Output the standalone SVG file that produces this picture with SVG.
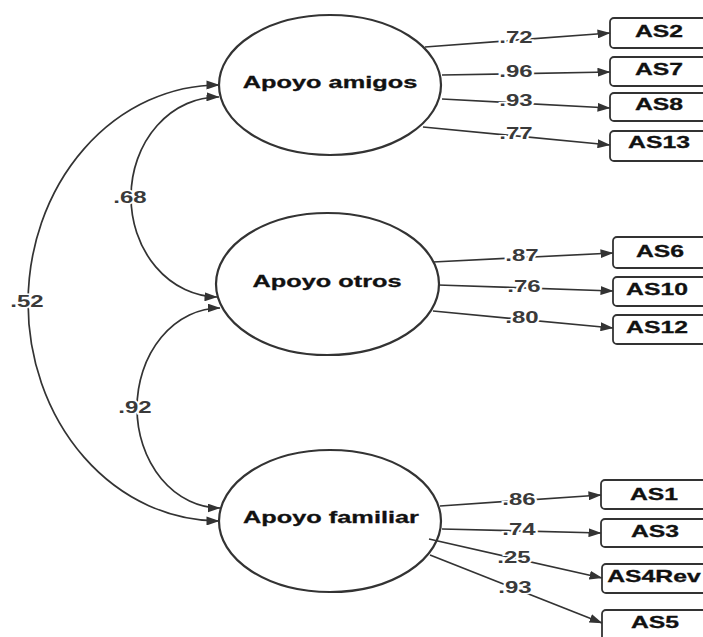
<svg xmlns="http://www.w3.org/2000/svg" width="703" height="637" viewBox="0 0 703 637">
  <defs>
    <marker id="arr" markerWidth="13" markerHeight="9" refX="12.5" refY="4.5" orient="auto-start-reverse" markerUnits="userSpaceOnUse">
      <path d="M0,0 L13,4.5 L0,9 z" fill="#333"/>
    </marker>
  </defs>
  <style>
    .latent { fill: #fff; stroke: #333; stroke-width: 2.2; }
    .obs { fill: #fff; stroke: #333; stroke-width: 1.8; }
    .lname { font-family: "Liberation Sans", Arial, sans-serif; font-weight: bold; font-size: 17px; fill: #111; text-anchor: middle; stroke: #111; stroke-width: 0.3; }
    .oname { font-family: "Liberation Sans", Arial, sans-serif; font-weight: bold; font-size: 16.5px; fill: #111; text-anchor: middle; stroke: #111; stroke-width: 0.3; }
    .edge { fill: none; stroke: #333; stroke-width: 1.7; }
    .coef { font-family: "Liberation Sans", Arial, sans-serif; font-weight: bold; font-size: 16px; fill: #3a3a3a; text-anchor: middle; stroke: #fff; stroke-width: 3; paint-order: stroke; }
  </style>
  <rect width="703" height="637" fill="#fff"/>

  <!-- latent factors -->
  <g id="apoyo-amigos">
    <ellipse class="latent" cx="330" cy="85" rx="111" ry="70"/>
    <text class="lname" transform="translate(330,88) scale(1.49,1)">Apoyo amigos</text>
  </g>
  <g id="apoyo-otros">
    <ellipse class="latent" cx="327.5" cy="284" rx="111.5" ry="71"/>
    <text class="lname" transform="translate(327,287) scale(1.49,1)">Apoyo otros</text>
  </g>
  <g id="apoyo-familiar">
    <ellipse class="latent" cx="330" cy="521" rx="111" ry="71"/>
    <text class="lname" transform="translate(331,523) scale(1.49,1)">Apoyo familiar</text>
  </g>

  <!-- observed items -->
  <g id="AS2"><rect class="obs" x="610" y="18" width="100" height="30" rx="4"/><text class="oname" transform="translate(659,37) scale(1.5,1)">AS2</text></g>
  <g id="AS7"><rect class="obs" x="610" y="57" width="100" height="29" rx="4"/><text class="oname" transform="translate(659,75) scale(1.5,1)">AS7</text></g>
  <g id="AS8"><rect class="obs" x="610" y="93" width="100" height="28" rx="4"/><text class="oname" transform="translate(659,110) scale(1.5,1)">AS8</text></g>
  <g id="AS13"><rect class="obs" x="610" y="131" width="100" height="30" rx="4"/><text class="oname" transform="translate(659,148) scale(1.5,1)">AS13</text></g>

  <g id="AS6"><rect class="obs" x="613" y="237" width="100" height="31" rx="4"/><text class="oname" transform="translate(660,257) scale(1.5,1)">AS6</text></g>
  <g id="AS10"><rect class="obs" x="613" y="277" width="100" height="29" rx="4"/><text class="oname" transform="translate(657,295) scale(1.5,1)">AS10</text></g>
  <g id="AS12"><rect class="obs" x="613" y="315" width="100" height="29" rx="4"/><text class="oname" transform="translate(657,333) scale(1.5,1)">AS12</text></g>

  <g id="AS1"><rect class="obs" x="601" y="480" width="110" height="29" rx="4"/><text class="oname" transform="translate(654,500) scale(1.5,1)">AS1</text></g>
  <g id="AS3"><rect class="obs" x="601" y="519" width="110" height="28" rx="4"/><text class="oname" transform="translate(655,537) scale(1.5,1)">AS3</text></g>
  <g id="AS4Rev"><rect class="obs" x="602" y="564" width="110" height="29" rx="4"/><text class="oname" transform="translate(654,582) scale(1.5,1)">AS4Rev</text></g>
  <g id="AS5"><rect class="obs" x="602" y="610" width="110" height="40" rx="4"/><text class="oname" transform="translate(655,628) scale(1.5,1)">AS5</text></g>

  <!-- paths and covariances -->
  <g id="connectors">
    <path class="edge" d="M425,47 L610,33" marker-end="url(#arr)"/>
    <path class="edge" d="M442,75 L610,72" marker-end="url(#arr)"/>
    <path class="edge" d="M442,99 L610,108" marker-end="url(#arr)"/>
    <path class="edge" d="M423,127 L610,145" marker-end="url(#arr)"/>

    <path class="edge" d="M433,262 L613,253" marker-end="url(#arr)"/>
    <path class="edge" d="M438,285 L613,291" marker-end="url(#arr)"/>
    <path class="edge" d="M433,311 L613,328" marker-end="url(#arr)"/>

    <path class="edge" d="M440,506 L601,495" marker-end="url(#arr)"/>
    <path class="edge" d="M442,529 L601,533" marker-end="url(#arr)"/>
    <path class="edge" d="M429,539 L602,578" marker-end="url(#arr)"/>
    <path class="edge" d="M430,555 L602,623" marker-end="url(#arr)"/>

    <path class="edge" d="M219,85 A191,218 0 0 0 219,521" marker-start="url(#arr)" marker-end="url(#arr)"/>
    <path class="edge" d="M219,97 A87,100 0 0 0 217,297" marker-start="url(#arr)" marker-end="url(#arr)"/>
    <path class="edge" d="M220,308 A83,100 0 0 0 220,508" marker-start="url(#arr)" marker-end="url(#arr)"/>

    <text class="coef" transform="translate(516,43) scale(1.5,1)">.72</text>
    <text class="coef" transform="translate(516,77) scale(1.5,1)">.96</text>
    <text class="coef" transform="translate(516,106) scale(1.5,1)">.93</text>
    <text class="coef" transform="translate(516,139) scale(1.5,1)">.77</text>

    <text class="coef" transform="translate(522,261) scale(1.5,1)">.87</text>
    <text class="coef" transform="translate(524,292) scale(1.5,1)">.76</text>
    <text class="coef" transform="translate(522,323) scale(1.5,1)">.80</text>

    <text class="coef" transform="translate(519,505) scale(1.5,1)">.86</text>
    <text class="coef" transform="translate(519,535) scale(1.5,1)">.74</text>
    <text class="coef" transform="translate(514,563) scale(1.5,1)">.25</text>
    <text class="coef" transform="translate(515,593) scale(1.5,1)">.93</text>

    <text class="coef" transform="translate(27,307) scale(1.5,1)">.52</text>
    <text class="coef" transform="translate(130,203) scale(1.5,1)">.68</text>
    <text class="coef" transform="translate(135,413) scale(1.5,1)">.92</text>
  </g>
</svg>
